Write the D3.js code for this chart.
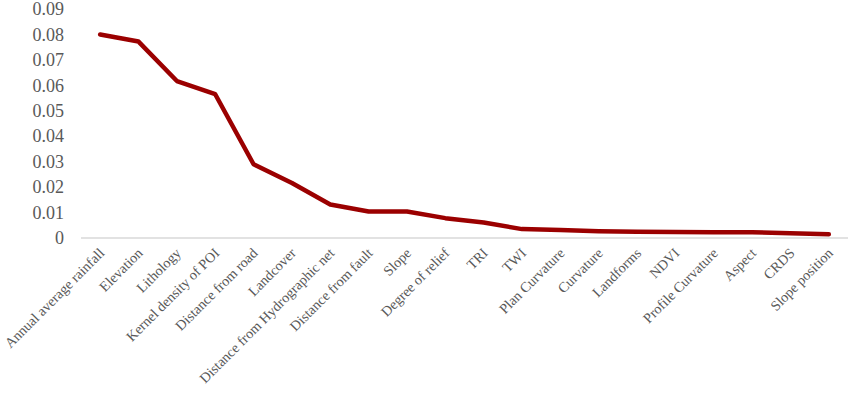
<!DOCTYPE html>
<html>
<head>
<meta charset="utf-8">
<script src="https://cdn.jsdelivr.net/npm/d3@7"></script>
<style>
  body { margin: 0; background: #fff; }
  svg { display: block; }
</style>
</head>
<body>
<div id="chart"></div>
<script>
const factors = [
  "Annual average rainfall", "Elevation", "Lithology", "Kernel density of POI",
  "Distance from road", "Landcover", "Distance from Hydrographic net",
  "Distance from fault", "Slope", "Degree of relief", "TRI", "TWI",
  "Plan Curvature", "Curvature", "Landforms", "NDVI", "Profile Curvature",
  "Aspect", "CRDS", "Slope position"
];
const importance = [
  0.0800, 0.0772, 0.0617, 0.0565, 0.0290, 0.0216, 0.0132, 0.0104,
  0.0104, 0.0078, 0.0061, 0.0035, 0.0031, 0.0027, 0.0025, 0.0024,
  0.0023, 0.0023, 0.0019, 0.0015
];
const yTicks = [0, 0.01, 0.02, 0.03, 0.04, 0.05, 0.06, 0.07, 0.08, 0.09];

let dim = { width: 850, height: 394 };
let margin = { top: 9, right: 2, bottom: 156, left: 81 };

let svg = d3.select("#chart").append("svg")
  .attr("width", dim.width)
  .attr("height", dim.height);

let x = d3.scalePoint()
  .domain(factors)
  .range([margin.left, dim.width - margin.right])
  .padding(0.5);

let y = d3.scaleLinear()
  .domain([0, 0.09])
  .range([dim.height - margin.bottom, margin.top]);

// y axis labels (no line, no ticks)
let yAxis = svg.append("g")
  .attr("transform", `translate(${margin.left},0)`)
  .call(d3.axisLeft(y).tickValues(yTicks).tickSize(0).tickPadding(17)
    .tickFormat((d) => d === 0 ? "0" : d3.format(".2f")(d)));
yAxis.select(".domain").remove();
yAxis.selectAll("text")
  .attr("font-family", "'Liberation Serif', 'Times New Roman', serif")
  .attr("font-size", 18)
  .attr("fill", "#595959");

// x axis baseline
svg.append("line")
  .attr("x1", margin.left)
  .attr("x2", dim.width - margin.right)
  .attr("y1", y(0))
  .attr("y2", y(0))
  .attr("stroke", "#d9d9d9")
  .attr("stroke-width", 1.5);

// category labels rotated
svg.append("g")
  .selectAll("text")
  .data(factors)
  .join("text")
  .attr("transform", (d) => `translate(${x(d) + 5},${y(0) + 16}) rotate(-45)`)
  .attr("text-anchor", "end")
  .attr("font-family", "'Liberation Serif', 'Times New Roman', serif")
  .attr("font-size", 14.2)
  .attr("fill", "#595959")
  .text((d) => d);

// line
let line = d3.line()
  .x((d, i) => x(factors[i]))
  .y((d) => y(d));

svg.append("path")
  .datum(importance)
  .attr("fill", "none")
  .attr("stroke", "#9b0000")
  .attr("stroke-width", 4.5)
  .attr("stroke-linejoin", "round")
  .attr("stroke-linecap", "round")
  .attr("d", line);
</script>
</body>
</html>
